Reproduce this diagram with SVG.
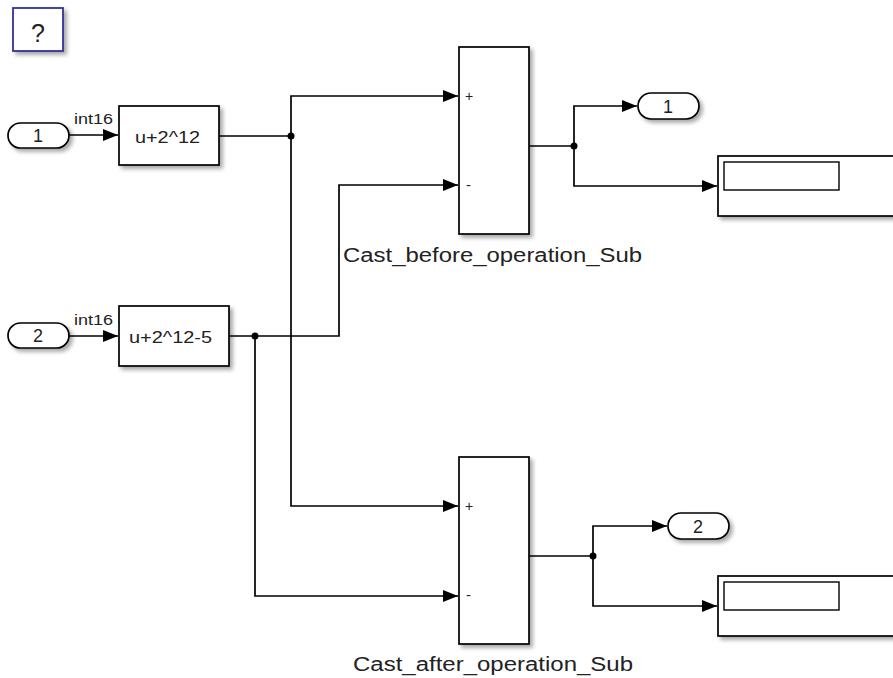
<svg xmlns="http://www.w3.org/2000/svg" width="893" height="678" viewBox="0 0 893 678">
<style>
.blk{fill:#fff;stroke:#000;stroke-width:1.7;filter:url(#sh)}
.ln{fill:none;stroke:#000;stroke-width:1.7}
.t{font-family:"Liberation Sans",Arial,sans-serif;fill:#222}
.port{fill:#fff;stroke:#000;stroke-width:1.7;filter:url(#sh)}
</style>
<defs>
<filter id="sh" x="-20%" y="-20%" width="150%" height="150%">
<feGaussianBlur in="SourceAlpha" stdDeviation="2"/>
<feOffset dx="3" dy="3" result="b"/>
<feComponentTransfer><feFuncA type="linear" slope="0.35"/></feComponentTransfer>
<feMerge><feMergeNode/><feMergeNode in="SourceGraphic"/></feMerge>
</filter>
<marker id="ar" markerWidth="15" markerHeight="12" refX="15" refY="6" orient="auto" markerUnits="userSpaceOnUse">
<path d="M0,0 L15,6 L0,12 Z" fill="#000"/>
</marker>
</defs>
<rect width="893" height="678" fill="#fff"/>

<g id="help">
<rect x="13" y="8" width="50" height="43" fill="#fff" stroke="#30309a" stroke-width="1.8" filter="url(#sh)"/>
<text class="t" x="38" y="42" font-size="25" text-anchor="middle">?</text>
</g>

<g id="connectors">
<path class="ln" d="M69,135 H118" marker-end="url(#ar)"/>
<path class="ln" d="M69,336 H118" marker-end="url(#ar)"/>
<path class="ln" d="M219,136 H291"/>
<path class="ln" d="M291,136 V96 H458" marker-end="url(#ar)"/>
<path class="ln" d="M291,136 V506 H458" marker-end="url(#ar)"/>
<path class="ln" d="M229,336 H339 V185 H458" marker-end="url(#ar)"/>
<path class="ln" d="M255,336 V596 H458" marker-end="url(#ar)"/>
<path class="ln" d="M529,146 H574"/>
<path class="ln" d="M574,146 V106 H637" marker-end="url(#ar)"/>
<path class="ln" d="M574,146 V186 H717" marker-end="url(#ar)"/>
<path class="ln" d="M529,556 H593"/>
<path class="ln" d="M593,556 V526 H667" marker-end="url(#ar)"/>
<path class="ln" d="M593,556 V606 H717" marker-end="url(#ar)"/>
<circle cx="291" cy="136" r="3.5"/>
<circle cx="255" cy="336" r="3.5"/>
<circle cx="574" cy="146" r="3.5"/>
<circle cx="593" cy="556" r="3.5"/>
<text class="t" x="74" y="124" font-size="14" textLength="39" lengthAdjust="spacingAndGlyphs">int16</text>
<text class="t" x="74" y="325" font-size="14" textLength="39" lengthAdjust="spacingAndGlyphs">int16</text>
</g>

<g id="in1">
<rect class="port" x="8" y="123" width="61" height="25" rx="12.5"/>
<text class="t" x="38" y="142" font-size="18" text-anchor="middle">1</text>
</g>
<g id="in2">
<rect class="port" x="8" y="323" width="61" height="25" rx="12.5"/>
<text class="t" x="38" y="342" font-size="18" text-anchor="middle">2</text>
</g>

<g id="bias1">
<rect class="blk" x="119" y="106" width="100" height="59"/>
<text class="t" x="135" y="143" font-size="16" textLength="65" lengthAdjust="spacingAndGlyphs">u+2^12</text>
</g>
<g id="bias2">
<rect class="blk" x="119" y="306" width="110" height="60"/>
<text class="t" x="129" y="343" font-size="16" textLength="83" lengthAdjust="spacingAndGlyphs">u+2^12-5</text>
</g>

<g id="sub1">
<rect class="blk" x="459" y="47" width="70" height="187"/>
<text class="t" x="465" y="101" font-size="14">+</text>
<text class="t" x="466" y="190" font-size="15">-</text>
<text class="t" x="343" y="262" font-size="20" textLength="299" lengthAdjust="spacingAndGlyphs">Cast_before_operation_Sub</text>
</g>
<g id="sub2">
<rect class="blk" x="459" y="457" width="70" height="187"/>
<text class="t" x="465" y="511" font-size="14">+</text>
<text class="t" x="466" y="600" font-size="15">-</text>
<text class="t" x="353" y="671" font-size="20" textLength="280" lengthAdjust="spacingAndGlyphs">Cast_after_operation_Sub</text>
</g>

<g id="out1">
<rect class="port" x="638" y="93" width="61" height="26" rx="13"/>
<text class="t" x="668" y="113" font-size="18" text-anchor="middle">1</text>
</g>
<g id="out2">
<rect class="port" x="668" y="513" width="61" height="26" rx="13"/>
<text class="t" x="698" y="533" font-size="18" text-anchor="middle">2</text>
</g>

<g id="display1">
<rect class="blk" x="718" y="156" width="200" height="60"/>
<rect x="724" y="162" width="115" height="28" fill="#fff" stroke="#000" stroke-width="1.4"/>
</g>
<g id="display2">
<rect class="blk" x="718" y="576" width="200" height="60"/>
<rect x="724" y="582" width="115" height="28" fill="#fff" stroke="#000" stroke-width="1.4"/>
</g>
</svg>
